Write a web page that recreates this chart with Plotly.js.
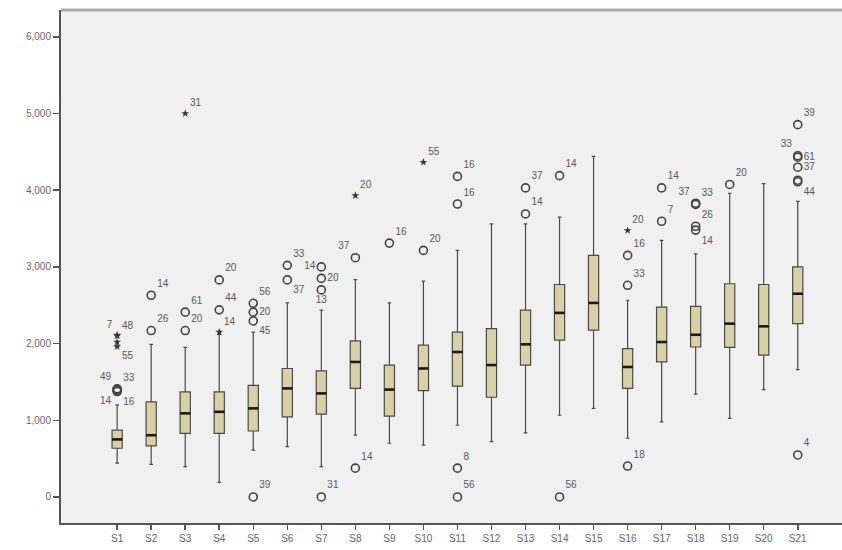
<!DOCTYPE html>
<html>
<head>
<meta charset="utf-8">
<script src="https://cdn.plot.ly/plotly-3.0.1.min.js"></script>
<style>html,body{margin:0;padding:0;background:#fff;}#chart{width:842px;height:550px;}</style>
</head>
<body>
<div id="chart"></div>
<script>
// ---- data ----
const categories = ["S1","S2","S3","S4","S5","S6","S7","S8","S9","S10","S11","S12","S13","S14","S15","S16","S17","S18","S19","S20","S21"];
const lowerWhisker = [440, 425, 395, 190, 610, 655, 395, 805, 700, 675, 935, 720, 835, 1065, 1155, 765, 980, 1340, 1025, 1400, 1660];
const q1Values     = [635, 665, 830, 830, 860, 1045, 1080, 1415, 1055, 1385, 1445, 1300, 1720, 2045, 2175, 1415, 1760, 1955, 1950, 1850, 2260];
const medianValues = [750, 805, 1090, 1110, 1155, 1415, 1350, 1760, 1400, 1675, 1890, 1720, 1990, 2400, 2530, 1695, 2020, 2115, 2260, 2225, 2650];
const q3Values     = [870, 1240, 1370, 1370, 1455, 1675, 1645, 2035, 1720, 1980, 2150, 2195, 2435, 2770, 3150, 1935, 2475, 2485, 2780, 2770, 3000];
const upperWhisker = [1200, 1990, 1950, 2120, 2150, 2530, 2435, 2835, 2530, 2815, 3215, 3560, 3560, 3650, 4440, 2565, 3345, 3170, 3960, 4085, 3855];

// outliers (circles)
const outlierCat   = ["S1","S1","S1","S1","S2","S2","S3","S3","S4","S4","S5","S5","S5","S5","S6","S6","S7","S7","S7","S7","S8","S8","S9","S10","S11","S11","S11","S11","S13","S13","S14","S14","S16","S16","S16","S17","S17","S18","S18","S18","S18","S19","S21","S21","S21","S21","S21","S21","S21"];
const outlierValue = [1410, 1400, 1385, 1375, 2630, 2170, 2410, 2170, 2830, 2440, 2525, 2410, 2295, 0, 3020, 2830, 3000, 2850, 2700, 0, 3120, 375, 3310, 3215, 4180, 3820, 375, 0, 4030, 3690, 4190, 0, 3150, 2760, 403, 4030, 3595, 3830, 3815, 3530, 3480, 4075, 4855, 4450, 4430, 4300, 4130, 4110, 547];
const outlierLabel = ["49","33","14","16","14","26","61","20","20","44","56","20","45","39","33","37","14","20","13","31","37","14","16","20","16","16","8","56","37","14","14","56","16","33","18","14","7","37","33","26","14","20","39","33","61","37","","44","4"];
const outlierLabelPos = ["top left","top right","bottom left","bottom right","top right","top right","top right","top right","top right","top right","top right","middle right","bottom right","top right","top right","bottom right","middle left","middle right","bottom center","top right","top left","top right","top right","top right","top right","top right","top right","top right","top right","top right","top right","top right","top right","top right","top right","top right","top right","top left","top right","top right","bottom right","top right","top right","top left","middle right","middle right","middle right","bottom right","top right"];

// extremes (stars)
const extremeCat   = ["S1","S1","S1","S1","S3","S4","S8","S10","S16"];
const extremeValue = [2110, 2100, 2020, 1960, 5000, 2150, 3930, 4365, 3475];
const extremeLabel = ["7","48","","55","31","14","20","55","20"];
const extremeLabelPos = ["top left","top right","top right","bottom right","top right","top right","top right","top right","top right"];

const yTicks = [0, 1000, 2000, 3000, 4000, 5000, 6000];

// ---- chart ----
const boxWidth = 0.3;
const boxTrace = {
  type: 'box',
  x: categories,
  q1: q1Values,
  median: medianValues,
  q3: q3Values,
  lowerfence: lowerWhisker,
  upperfence: upperWhisker,
  boxpoints: false,
  width: boxWidth,
  whiskerwidth: 0.35,
  fillcolor: '#d8d1a2',
  line: {color: '#4a4a4a', width: 1.2},
  hoverinfo: 'skip',
  showlegend: false
};

const labelFont = {family: 'Liberation Sans, Arial, sans-serif', size: 10, color: '#5a5a5a'};

const outlierTrace = {
  type: 'scatter',
  mode: 'markers+text',
  x: outlierCat,
  y: outlierValue,
  text: outlierLabel,
  textposition: outlierLabelPos,
  textfont: labelFont,
  marker: {symbol: 'circle-open', size: 8, color: '#444', line: {width: 1.6, color: '#444'}},
  cliponaxis: false,
  hoverinfo: 'skip',
  showlegend: false
};

const extremeTrace = {
  type: 'scatter',
  mode: 'markers+text',
  x: extremeCat,
  y: extremeValue,
  text: extremeLabel,
  textposition: extremeLabelPos,
  textfont: labelFont,
  marker: {symbol: 'star', size: 6, color: '#333'},
  cliponaxis: false,
  hoverinfo: 'skip',
  showlegend: false
};

// thick median lines drawn in data coordinates
const shapes = medianValues.map((m, i) => ({
  type: 'line', xref: 'x', yref: 'y',
  x0: i - boxWidth / 2, x1: i + boxWidth / 2, y0: m, y1: m,
  line: {color: '#1a1a1a', width: 2.6}
}));
shapes.push({type: 'line', xref: 'paper', yref: 'paper', x0: 0, x1: 1, y0: 1, y1: 1,
  line: {color: '#a8a8a8', width: 3}});

const layout = {
  width: 842, height: 550,
  margin: {l: 61, r: 0, t: 10, b: 27},
  paper_bgcolor: '#ffffff',
  plot_bgcolor: '#f0f0f0',
  font: {family: 'Liberation Sans, Arial, sans-serif', size: 10, color: '#666'},
  showlegend: false,
  xaxis: {
    type: 'category',
    categoryorder: 'array', categoryarray: categories,
    range: [-1.65, 21.3],
    showgrid: false, zeroline: false,
    showline: true, linecolor: '#555', linewidth: 2,
    ticks: 'outside', ticklen: 5, tickwidth: 1.5, tickcolor: '#555',
    tickfont: {size: 10, color: '#666'}
  },
  yaxis: {
    range: [-340, 6350],
    tickvals: yTicks,
    tickformat: ',d',
    showgrid: false, zeroline: false,
    showline: true, linecolor: '#555', linewidth: 2,
    ticks: 'outside', ticklen: 6, tickwidth: 1.5, tickcolor: '#555',
    tickfont: {size: 10, color: '#666'}
  },
  shapes: shapes
};

Plotly.newPlot('chart', [boxTrace, outlierTrace, extremeTrace], layout, {displayModeBar: false, staticPlot: true});
</script>
</body>
</html>
